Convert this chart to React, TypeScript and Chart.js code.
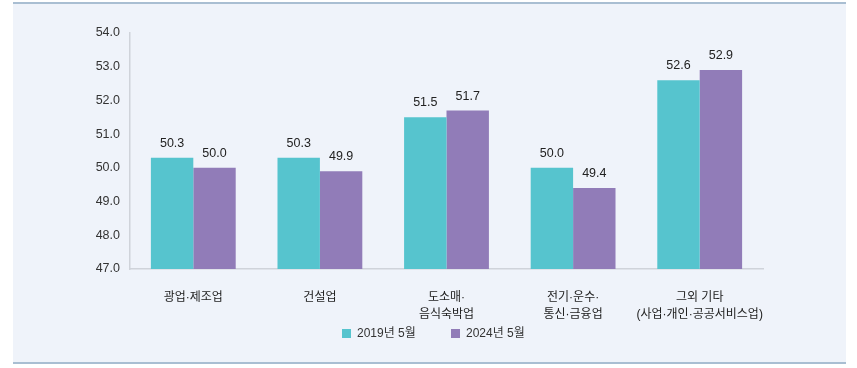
import React, { useEffect, useRef } from "react";
import { Chart, registerables } from "chart.js";

Chart.register(...registerables);

const categories: string[][] = [
  ["광업·제조업"],
  ["건설업"],
  ["도소매·", "음식숙박업"],
  ["전기·운수·", "통신·금융업"],
  ["그외 기타", "(사업·개인·공공서비스업)"],
];
const series2019: number[] = [50.3, 50.3, 51.5, 50.0, 52.6];
const series2024: number[] = [50.0, 49.9, 51.7, 49.4, 52.9];
const seriesNames: string[] = ["2019년 5월", "2024년 5월"];
const seriesColors: string[] = ["#56c4ce", "#917cb8"];
const yMin = 47;
const yMax = 54;

const FONT = '"Liberation Sans", "Noto Sans CJK KR", Arial, sans-serif';

const valueLabelPlugin = {
  id: "valueLabels",
  afterDatasetsDraw(chart: any) {
    const ctx = chart.ctx;
    ctx.save();
    ctx.fillStyle = "#222";
    ctx.font = `12.5px ${FONT}`;
    ctx.textAlign = "center";
    ctx.textBaseline = "bottom";
    chart.data.datasets.forEach((ds: any, di: number) => {
      const meta = chart.getDatasetMeta(di);
      meta.data.forEach((bar: any, i: number) => {
        ctx.fillText(Number(ds.data[i]).toFixed(1), bar.x, bar.y - 8);
      });
    });
    ctx.restore();
  },
};

export default function App() {
  const ref = useRef<HTMLCanvasElement | null>(null);
  useEffect(() => {
    if (!ref.current) return;
    const chart = new Chart(ref.current, {
      type: "bar",
      data: {
        labels: categories,
        datasets: [
          { label: seriesNames[0], data: series2019, backgroundColor: seriesColors[0] },
          { label: seriesNames[1], data: series2024, backgroundColor: seriesColors[1] },
        ],
      },
      options: {
        animation: false,
        responsive: false,
        layout: { padding: { left: 96, right: 94, top: 33, bottom: 0 } },
        plugins: { legend: { display: false }, tooltip: { enabled: false } },
        datasets: { bar: { barPercentage: 1, categoryPercentage: 0.67 } },
        scales: {
          x: {
            grid: { display: false, drawTicks: false },
            border: { display: true, color: "#cfd3da", width: 1.5 },
            ticks: {
              color: "#222",
              padding: 20,
              font: { size: 12, family: FONT, lineHeight: 1.45 },
              maxRotation: 0,
              autoSkip: false,
            },
            afterFit(scale: any) {
              scale.height = 99;
            },
          },
          y: {
            min: yMin,
            max: yMax,
            grid: { display: false, drawTicks: false },
            border: { display: true, color: "#cfd3da", width: 1.5 },
            ticks: {
              stepSize: 1,
              color: "#333",
              padding: 10,
              font: { size: 12.5, family: FONT },
              callback: (v: any) => Number(v).toFixed(1),
            },
            afterFit(scale: any) {
              scale.width = 34;
            },
          },
        },
      },
      plugins: [valueLabelPlugin],
    });
    return () => chart.destroy();
  }, []);

  const legendText: React.CSSProperties = {
    position: "absolute",
    top: 325,
    fontFamily: FONT,
    fontSize: 12,
    color: "#333",
    lineHeight: "16px",
    whiteSpace: "nowrap",
  };
  const box = (color: string, left: number): React.CSSProperties => ({
    position: "absolute",
    left,
    top: 329,
    width: 9,
    height: 9,
    background: color,
  });

  return (
    <div style={{ position: "absolute", left: 0, top: 0, width: 857, height: 368, background: "#fff" }}>
      <div
        style={{
          position: "absolute",
          left: 13,
          top: 2,
          width: 833,
          height: 358,
          background: "#eff3fa",
          borderTop: "2px solid #a9bed2",
          borderBottom: "2px solid #a9bed2",
        }}
      />
      <canvas ref={ref} width={857} height={368} style={{ position: "absolute", left: 0, top: 0 }} />
      <div style={box(seriesColors[0], 342)} />
      <div style={{ ...legendText, left: 357 }}>{seriesNames[0]}</div>
      <div style={box(seriesColors[1], 451)} />
      <div style={{ ...legendText, left: 466 }}>{seriesNames[1]}</div>
    </div>
  );
}
